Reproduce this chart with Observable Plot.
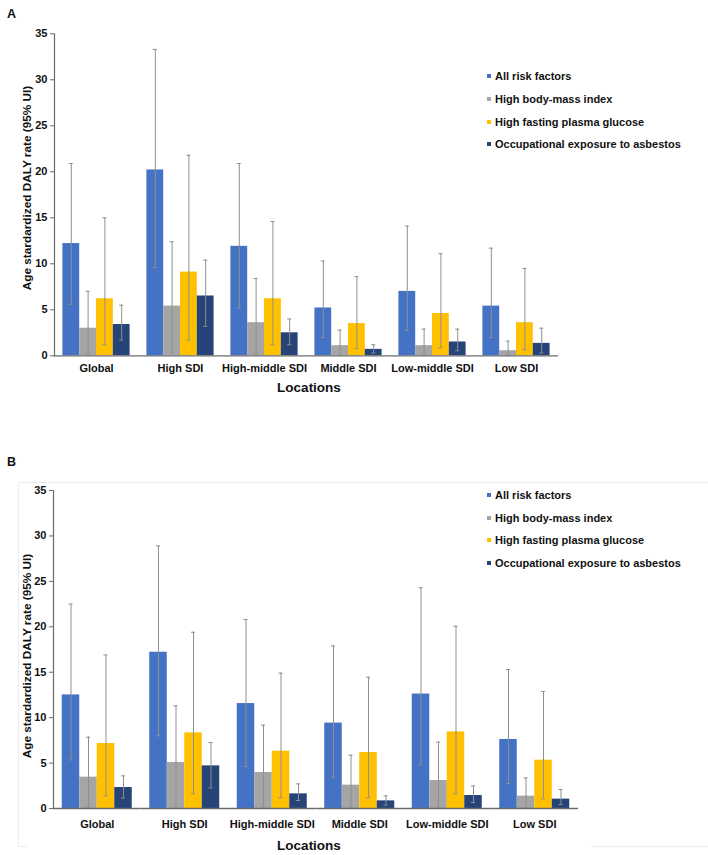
<!DOCTYPE html>
<html>
<head>
<meta charset="utf-8">
<script src="https://cdn.jsdelivr.net/npm/d3@7"></script>
<script src="https://cdn.jsdelivr.net/npm/@observablehq/plot@0.6"></script>
<style>
  html, body { margin: 0; padding: 0; background: #fff; }
  #root { position: relative; width: 708px; height: 855px; overflow: hidden; font-family: "Liberation Sans", Arial, sans-serif; color: #111; }
  .abs { position: absolute; }
  .plotbox svg { display: block; background: transparent !important; }
  .panel-letter { font-weight: bold; font-size: 12.5px; }
  .ytitle { font-weight: bold; font-size: 11.8px; white-space: nowrap; transform: translate(-50%, -50%) rotate(-90deg); background: #fff; padding: 0 14px; }
  .xtitle { font-weight: bold; font-size: 13.5px; white-space: nowrap; transform: translate(-50%, -50%); }
  .leg { font-weight: bold; font-size: 11px; white-space: nowrap; transform: translateY(-50%); display: flex; align-items: center; }
  .leg span.sw { display: inline-block; width: 4px; height: 4px; margin-right: 4px; }
  .frameB { border: 1px solid #ececec; }
</style>
</head>
<body>
<div id="root"></div>
<script>
// ---------- data ----------
const locations = ["Global", "High SDI", "High-middle SDI", "Middle SDI", "Low-middle SDI", "Low SDI"];
const series = ["All risk factors", "High body-mass index", "High fasting plasma glucose", "Occupational exposure to asbestos"];
const colors = ["#4472C4", "#A5A5A5", "#FFC000", "#264478"];
const yTicks = [0, 5, 10, 15, 20, 25, 30, 35];
const yLabel = "Age stardardized DALY rate (95% UI)";
const xLabel = "Locations";

// Panel A
const aAllVal = [12.2, 20.2, 11.9, 5.2, 7.0, 5.4];
const aAllLo  = [5.6, 9.6, 5.2, 2.0, 2.75, 1.96];
const aAllHi  = [20.9, 33.3, 20.9, 10.3, 14.1, 11.7];
const aBmiVal = [3.0, 5.4, 3.6, 1.1, 1.1, 0.55];
const aBmiLo  = [0.2, 0.3, 0.2, 0.1, 0.1, 0.05];
const aBmiHi  = [7.0, 12.4, 8.4, 2.8, 2.9, 1.6];
const aFpgVal = [6.2, 9.1, 6.2, 3.5, 4.6, 3.6];
const aFpgLo  = [1.2, 1.7, 1.2, 0.76, 0.87, 0.65];
const aFpgHi  = [15.0, 21.8, 14.6, 8.6, 11.1, 9.5];
const aAsbVal = [3.4, 6.5, 2.5, 0.7, 1.5, 1.35];
const aAsbLo  = [1.7, 3.2, 1.2, 0.3, 0.55, 0.3];
const aAsbHi  = [5.5, 10.4, 4.0, 1.2, 2.9, 3.0];

// Panel B
const bAllVal = [12.5, 17.2, 11.55, 9.4, 12.6, 7.6];
const bAllLo  = [5.35, 8.0, 4.6, 3.45, 4.8, 2.75];
const bAllHi  = [22.5, 28.9, 20.8, 17.9, 24.3, 15.3];
const bBmiVal = [3.45, 5.06, 3.96, 2.57, 3.08, 1.36];
const bBmiLo  = [0.2, 0.3, 0.2, 0.15, 0.15, 0.1];
const bBmiHi  = [7.85, 11.3, 9.17, 5.87, 7.3, 3.37];
const bFpgVal = [7.15, 8.32, 6.31, 6.16, 8.43, 5.32];
const bFpgLo  = [1.39, 1.61, 1.17, 1.17, 1.61, 1.06];
const bFpgHi  = [16.9, 19.4, 14.9, 14.45, 20.06, 12.87];
const bAsbVal = [2.31, 4.69, 1.61, 0.84, 1.43, 1.03];
const bAsbLo  = [1.14, 2.27, 0.88, 0.37, 0.66, 0.44];
const bAsbHi  = [3.59, 7.26, 2.71, 1.39, 2.49, 2.09];

function buildRows(vals, los, his) {
  const rows = [];
  locations.forEach((loc, j) => {
    series.forEach((s, i) => {
      rows.push({location: loc, series: s, value: vals[i][j], lo: los[i][j], hi: his[i][j]});
    });
  });
  return rows;
}
const rowsA = buildRows([aAllVal, aBmiVal, aFpgVal, aAsbVal], [aAllLo, aBmiLo, aFpgLo, aAsbLo], [aAllHi, aBmiHi, aFpgHi, aAsbHi]);
const rowsB = buildRows([bAllVal, bBmiVal, bFpgVal, bAsbVal], [bAllLo, bBmiLo, bFpgLo, bAsbLo], [bAllHi, bBmiHi, bFpgHi, bAsbHi]);

// ---------- layout ----------
const root = document.getElementById("root");
function addDiv(cls, left, top, html, extra) {
  const d = document.createElement("div");
  d.className = "abs " + cls;
  d.style.left = left + "px";
  d.style.top = top + "px";
  if (extra) Object.assign(d.style, extra);
  d.innerHTML = html;
  root.appendChild(d);
  return d;
}

function panel(rows, cfg) {
  const width = 708;
  const inner = width - cfg.marginLeft - cfg.marginRight;
  const step = inner / locations.length;
  const gap = step * 0.2;
  const bw = step * 0.8 / series.length;
  const capInset = (bw - 4) / 2;
  const errColor = "#8f8f8f";
  const chart = Plot.plot({
    width,
    height: cfg.height,
    marginTop: cfg.marginTop,
    marginBottom: cfg.marginBottom,
    marginLeft: cfg.marginLeft,
    marginRight: cfg.marginRight,
    style: {fontFamily: "'Liberation Sans', Arial, sans-serif", fontSize: "11px", fontWeight: "bold", color: "#111", background: "transparent"},
    fx: {domain: locations, paddingInner: 0.2, paddingOuter: 0.1, label: null, round: false},
    x: {domain: series, padding: 0, axis: null, round: false},
    y: {domain: [0, 35]},
    color: {domain: series, range: colors},
    marks: [
      Plot.barY(rows, {fx: "location", x: "series", y: "value", fill: "series"}),
      Plot.ruleX(rows, {fx: "location", x: "series", y1: "lo", y2: "hi", stroke: errColor, strokeWidth: 1}),
      Plot.tickY(rows, {fx: "location", x: "series", y: "lo", stroke: errColor, strokeWidth: 1, insetLeft: capInset, insetRight: capInset}),
      Plot.tickY(rows, {fx: "location", x: "series", y: "hi", stroke: errColor, strokeWidth: 1, insetLeft: capInset, insetRight: capInset}),
      Plot.ruleY([0], {stroke: "#6b6b6b", strokeWidth: 1.3, insetLeft: -gap / 2, insetRight: -gap / 2}),
      Plot.frame({anchor: "left", facetAnchor: "left", dx: -gap / 2, stroke: "#6b6b6b", strokeWidth: 1.2}),
      Plot.axisY({ticks: yTicks, tickSize: 4, tickPadding: 3, dx: -gap / 2, label: null, stroke: "#6b6b6b"}),
      Plot.axisFx({anchor: "bottom", tickSize: 0, tickPadding: cfg.labelPad, label: null})
    ]
  });
  const wrap = document.createElement("div");
  wrap.className = "abs plotbox";
  wrap.style.left = "0px";
  wrap.style.top = cfg.top + "px";
  wrap.appendChild(chart);
  root.appendChild(wrap);
}

// panel B faint frame (behind)
addDiv("frameB", 18, 482, "", {width: "720px", height: "363px"});

// Panel A
panel(rowsA, {top: 0, height: 400, marginTop: 33.3, marginBottom: 44.7, marginLeft: 54, marginRight: 150, labelPad: 8});
// Panel B
panel(rowsB, {top: 470, height: 385, marginTop: 20, marginBottom: 47, marginLeft: 53, marginRight: 130, labelPad: 12});

// panel letters
addDiv("panel-letter", 7, 7, "A");
addDiv("panel-letter", 7, 455, "B");

// axis titles
addDiv("ytitle", 26.7, 187.5, yLabel);
addDiv("ytitle", 26.7, 656, yLabel);
addDiv("xtitle", 309, 387, xLabel);
addDiv("xtitle", 309, 845, xLabel, {background: "#fff", padding: "0 250px"});

// legends
function legend(x, ys) {
  series.forEach((s, i) => {
    addDiv("leg", x, ys[i], `<span class="sw" style="background:${colors[i]}"></span>${s}`);
  });
}
legend(487, [76.3, 99, 121.7, 144.3]);
legend(487, [495, 517.7, 540.3, 563]);
</script>
</body>
</html>
